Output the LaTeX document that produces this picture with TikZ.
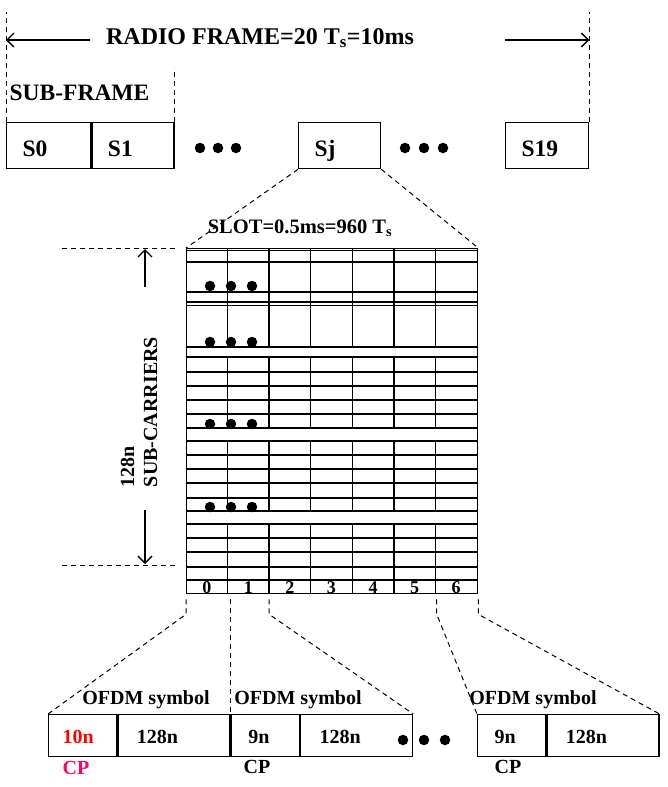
\documentclass[tikz,border=0pt]{standalone}
\usepackage{fontspec}
\setmainfont{Liberation Serif}
\usetikzlibrary{arrows.meta,positioning}
\definecolor{cppink}{RGB}{255,0,102}
\begin{document}
\begin{tikzpicture}[x=1pt,y=-1pt,>={Straight Barb[length=7pt,width=14pt]},line width=1.3pt]
\tikzset{
  lbl/.style={font=\fontsize{20}{23}\selectfont\bfseries,inner sep=0pt},
  big/.style={font=\fontsize{23.5}{26}\selectfont\bfseries},
  sub/.style={lbl,big,draw,anchor=north west,minimum height=46pt,inner xsep=16pt,align=left,text height=22pt,text depth=0pt},
  sym/.style={lbl,draw,anchor=north west,minimum height=42pt,align=left,text height=16pt,text depth=0pt},
  guide/.style={line width=1pt,dash pattern=on 5pt off 4pt},
  blob/.style={circle,fill,inner sep=0pt,minimum size=10.5pt}
}
\useasboundingbox (0,0) rectangle (667,787);
\node[lbl,font=\fontsize{24}{26}\selectfont\bfseries] (frame) at (260,38) {RADIO FRAME=20 T\textsubscript{s}=10ms};
\node[sub,text width=52pt] (s0) at (6,122) {S0};
\node[sub,text width=50pt] (s1) at (s0.north east) {S1};
\node[sub,text width=50pt] (sj) at (298,122) {Sj};
\node[sub,text width=51pt] (s19) at (505,122) {S19};
\node[lbl,big,anchor=west] (subframe) at (9,93) {SUB-FRAME};
\coordinate (al) at (90,40);
\coordinate (ar) at (505,40);
\draw[->] (al) -- (al -| s0.west);
\draw[->] (ar) -- (ar -| s19.east);
\draw[guide] (s0.north west) -- ++(0,-110);
\draw[guide] (s19.north east) -- ++(0,-110);
\draw[guide] (s1.north east) -- ++(0,-54);
\foreach \x in {200,218,236,405,424,443} \node[blob] (t\x) at (\x,148) {};
\node[draw,anchor=north west,inner sep=0pt,minimum width=291pt,minimum height=345pt] (slot) at (186,248) {};
\node[lbl,font=\fontsize{20.5}{22}\selectfont\bfseries] (slottitle) at (300,228) {SLOT=0.5ms=960 T\textsubscript{s}};
\draw[guide] (sj.south west) -- (slot.north west);
\draw[guide] (sj.south east) -- (slot.north east);
\draw (186,250.5) -- (477,250.5);
\foreach \y in {262,292,302,305.5,347,357,372,386,400,414,428,441,455,469,483,498,511,524,538,552,567,580}
  \draw (186,\y) -- (477,\y);
\foreach \i in {1,...,6}
  \foreach \a/\b in {248/347,357/428,441/511,524/593}
    \draw ({186+41.57*\i},\a) -- ({186+41.57*\i},\b);
\foreach \i in {0,...,6}
  \node[lbl,font=\fontsize{18}{18}\selectfont\bfseries] (n\i) at ({186+41.57*(\i+0.5)},587.5) {\i};
\foreach \y in {286,342,424,507}
  \foreach \x in {210,231,252} \node[blob] (g\x\y) at (\x,\y) {};
\draw[guide] (175,248) -- (62,248);
\draw[guide] (175,565) -- (62,565);
\draw[->] (145,287) -- (145,249);
\draw[->] (145,510) -- (145,564);
\node[lbl,rotate=90,align=left] (carriers) at (139,412) {128n\\SUB-CARRIERS};
\node[sym,inner xsep=14pt,text width=40pt,text=red] (cp0) at (48,714) {10n};
\node[sym,inner xsep=19pt,text width=74pt] (sym0) at (cp0.north east) {128n};
\node[sym,inner xsep=17pt,text width=34pt] (cp1) at (sym0.north east) {9n};
\node[sym,inner xsep=19pt,text width=74pt] (sym1) at (cp1.north east) {128n};
\node[sym,inner xsep=17pt,text width=34pt] (cp6) at (477,714) {9n};
\node[sym,inner xsep=19pt,text width=74pt] (sym6) at (cp6.north east) {128n};
\foreach \x in {403,424,445} \node[blob] (b\x) at (\x,740) {};
\node[lbl] (ofdm0) at (146,700) {OFDM symbol};
\node[lbl] (ofdm1) at (298,700) {OFDM symbol};
\node[lbl] (ofdm6) at (533,700) {OFDM symbol};
\node[lbl,text=cppink] (cpl0) at (76,768) {CP};
\node[lbl] (cpl1) at (257,767) {CP};
\node[lbl] (cpl6) at (508,767) {CP};
\draw[guide] ([yshift=-5pt]slot.south west) -- ++(0,15) -- (cp0.north west);
\draw[guide] ([yshift=-5pt]cp1.north west |- slot.south) -- (cp1.north west);
\draw[guide] ([xshift=83.14pt,yshift=-5pt]slot.south west) -- ++(0,15) -- (sym1.north east);
\draw[guide] ([xshift=-41.57pt,yshift=-5pt]slot.south east) -- ++(0,15) -- (cp6.north west);
\draw[guide] ([yshift=-5pt]slot.south east) -- ++(0,15) -- (sym6.north east);
\end{tikzpicture}
\end{document}
